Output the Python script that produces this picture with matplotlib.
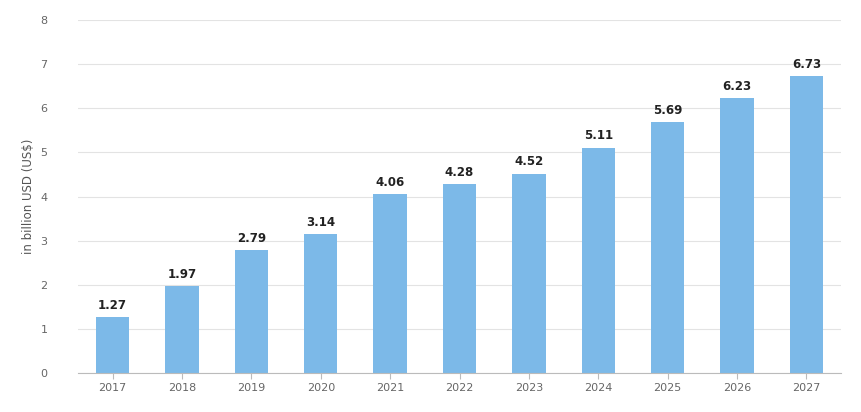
import matplotlib
matplotlib.use("Agg")
import matplotlib.pyplot as plt

years = ["2017","2018","2019","2020","2021","2022","2023","2024","2025","2026","2027"]
values = [1.27,1.97,2.79,3.14,4.06,4.28,4.52,5.11,5.69,6.23,6.73]
yticks = [0,1,2,3,4,5,6,7,8]

fig = plt.figure(figsize=(8.62,4.12), dpi=100)
ax = fig.add_axes([78/862, 39/412, 763/862, 353/412])
x = range(len(years))
ax.bar(x, values, width=0.48, color="#7cb9e8", zorder=2)
for i, v in zip(x, values):
    ax.text(i, v + 0.12, f"{v:.2f}", ha="center", va="bottom", fontsize=8.5,
            fontweight="bold", color="#222222")
ax.set_xlim(-0.5, len(years) - 0.5)
ax.set_ylim(0, 8)
ax.set_yticks(yticks)
ax.set_xticks(list(x))
ax.set_xticklabels(years)
ax.grid(axis="y", color="#e3e3e3", linewidth=0.8, zorder=0)
for s in ["top", "right", "left"]:
    ax.spines[s].set_visible(False)
ax.spines["bottom"].set_color("#bbbbbb")
ax.tick_params(axis="y", length=0, labelsize=8, colors="#666666", pad=22)
ax.tick_params(axis="x", length=4, color="#bbbbbb", labelsize=8, colors="#666666")
ax.set_ylabel("in billion USD (US$)", fontsize=8.5, color="#555555", labelpad=4)
fig.savefig("out.png", dpi=100, facecolor="white")
